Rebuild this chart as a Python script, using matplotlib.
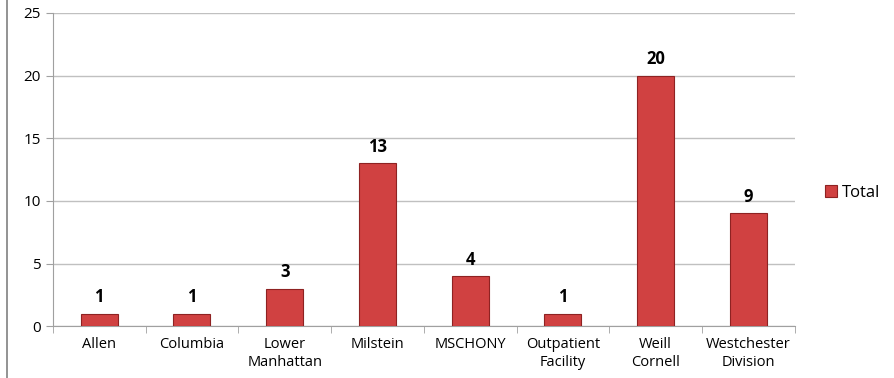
import numpy as np
import matplotlib.pyplot as plt
from matplotlib.lines import Line2D

plt.rcParams['font.family'] = ['Open Sans', 'DejaVu Sans']

sites = ["Allen", "Columbia", "Lower\nManhattan", "Milstein", "MSCHONY",
         "Outpatient\nFacility", "Weill\nCornell", "Westchester\nDivision"]
totals = [1, 1, 3, 13, 4, 1, 20, 9]

fig = plt.figure(figsize=(8.95, 3.78), dpi=100)
ax = fig.add_axes([0.059, 0.137, 0.829, 0.829])

x = np.arange(len(sites))
bars = ax.bar(x, totals, width=0.4, color='#d04141', edgecolor='#8e2222',
              linewidth=0.8, label='Total', zorder=3)
for b, v in zip(bars, totals):
    ax.text(b.get_x() + b.get_width() / 2, v + 0.6, str(v), ha='center',
            va='bottom', fontsize=12, fontweight='bold', color='black')

ax.set_xlim(-0.5, len(sites) - 0.5)
ax.set_ylim(0, 25)
ax.set_yticks(range(0, 26, 5))
ax.set_xticks(x)
ax.set_xticklabels(sites, fontsize=10.5, linespacing=1.2)
ax.set_xticks(np.arange(-0.5, len(sites), 1), minor=True)
ax.tick_params(axis='x', which='major', length=0, pad=8)
ax.tick_params(axis='x', which='minor', length=5, color='#a0a0a0')
ax.tick_params(axis='y', length=5, color='#a0a0a0', labelsize=11)
ax.grid(axis='y', color='#c0c0c0', linewidth=1, zorder=0)
for side in ['top', 'right']:
    ax.spines[side].set_visible(False)
for side in ['left', 'bottom']:
    ax.spines[side].set_color('#a0a0a0')

fig.legend(handles=[bars], labels=['Total'], loc='center left',
           bbox_to_anchor=(0.905, 0.49), frameon=False, fontsize=12,
           handlelength=0.7, handleheight=0.7, handletextpad=0.3)

fig.add_artist(Line2D([0.008, 0.008], [0, 1], color='#808080', linewidth=1.2,
                      transform=fig.transFigure))

fig.savefig('out.png', dpi=100)
